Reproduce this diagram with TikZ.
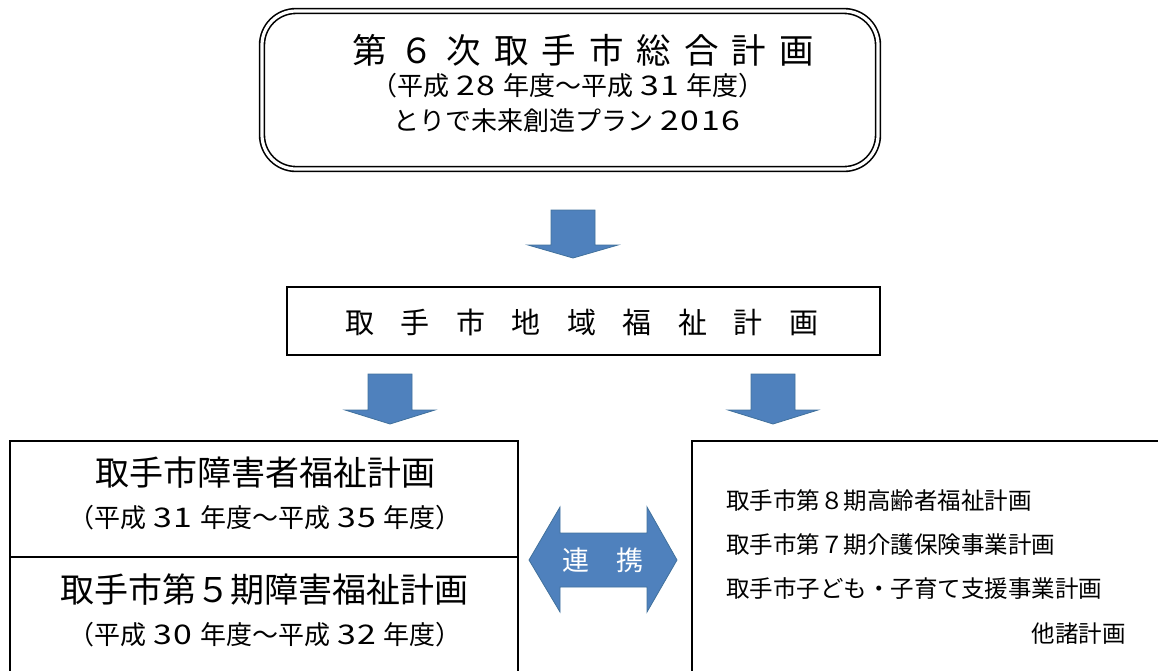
\documentclass[tikz,border=0pt]{standalone}
\usepackage{fontspec}
\usepackage{graphicx}
\setmainfont{Noto Sans CJK JP}
\definecolor{arrowblue}{HTML}{4F81BD}
\definecolor{arrowedge}{HTML}{41719C}
\newcommand\dd[1]{\makebox[0.78em][c]{\scalebox{1.3}[1.04]{#1}}}
\newcommand\gp{\hspace{0.25em}}
\begin{document}
\begin{tikzpicture}[x=1pt,y=-1pt,
  frame/.style={draw,line width=1.8pt},
  blk/.style={fill=arrowblue,draw=arrowedge,line width=0.8pt,line join=miter},
  lbl/.style={inner sep=0pt,anchor=center,text=black},
  datefont/.style={font=\fontsize{26}{28}\selectfont}]
\useasboundingbox (0,0) rectangle (1158,670);
\begin{scope}
\clip (0,0) rectangle (1158,670);
% top box
\node[draw,line width=1.6pt,double,double distance=3.2pt,rounded corners=34pt,
      minimum width=616pt,minimum height=158pt,inner sep=0pt] (plan6) at (570,90) {};
\node[lbl,font=\fontsize{34.5}{36}\selectfont] (t1) at (583,50)
  {第\hspace{13pt}６\hspace{13pt}次\hspace{13pt}取\hspace{13pt}手\hspace{13pt}市\hspace{13pt}総\hspace{13pt}合\hspace{13pt}計\hspace{13pt}画};
\node[lbl,datefont] (t2) at (568,86) {（平成\gp\dd2\dd8\gp 年度～平成\gp\dd3\dd1\gp 年度）};
\node[lbl,datefont] (t3) at (567,121) {とりで未来創造プラン\gp\dd2\dd0\dd1\dd6};
% arrow 1
\draw[blk] (551,210) -- (595,210) -- (595,245) -- (618,245) -- (573,258) -- (528,245) -- (551,245) -- cycle;
% community welfare plan
\node[frame,minimum width=593pt,minimum height=68pt,inner sep=0pt] (chiiki) at (583.5,321) {};
\node[lbl,font=\fontsize{29}{31}\selectfont] (t4) at (582,322)
  {取\hspace{26.5pt}手\hspace{26.5pt}市\hspace{26.5pt}地\hspace{26.5pt}域\hspace{26.5pt}福\hspace{26.5pt}祉\hspace{26.5pt}計\hspace{26.5pt}画};
% arrows 2 and 3
\draw[blk] (368,374) -- (412,374) -- (412,410) -- (435,410) -- (390,424) -- (345,410) -- (368,410) -- cycle;
\draw[blk] (751,374) -- (795,374) -- (795,410) -- (818,410) -- (773,424) -- (728,410) -- (751,410) -- cycle;
% left box
\draw[frame] (10,441) rectangle (518,690);
\draw[frame] (10,557) -- (518,557);
\node[lbl,font=\fontsize{34}{36}\selectfont] (l1) at (265,473) {取手市障害者福祉計画};
\node[lbl,datefont] (l2) at (265,518) {（平成\gp\dd3\dd1\gp 年度～平成\gp\dd3\dd5\gp 年度）};
\node[lbl,font=\fontsize{34}{36}\selectfont] (l3) at (264,590) {取手市第５期障害福祉計画};
\node[lbl,datefont] (l4) at (265,635) {（平成\gp\dd3\dd0\gp 年度～平成\gp\dd3\dd2\gp 年度）};
% right box
\draw[frame] (692,441) rectangle (1170,690);
\node[lbl,anchor=west,font=\fontsize{23.5}{25}\selectfont] (r1) at (726,501) {取手市第８期高齢者福祉計画};
\node[lbl,anchor=west,font=\fontsize{23.5}{25}\selectfont] (r2) at (726,545) {取手市第７期介護保険事業計画};
\node[lbl,anchor=west,font=\fontsize{23.5}{25}\selectfont] (r3) at (726,589) {取手市子ども・子育て支援事業計画};
\node[lbl,anchor=east,font=\fontsize{23.5}{25}\selectfont] (r4) at (1126,634) {他諸計画};
% double arrow
\draw[blk] (529,560) -- (560,507) -- (560,533) -- (647,533) -- (647,507) -- (677,560)
  -- (647,612) -- (647,587) -- (560,587) -- (560,612) -- cycle;
\node[lbl,text=white,font=\fontsize{27}{29}\selectfont] (renkei) at (603,560) {連　携};
\end{scope}
\end{tikzpicture}
\end{document}
